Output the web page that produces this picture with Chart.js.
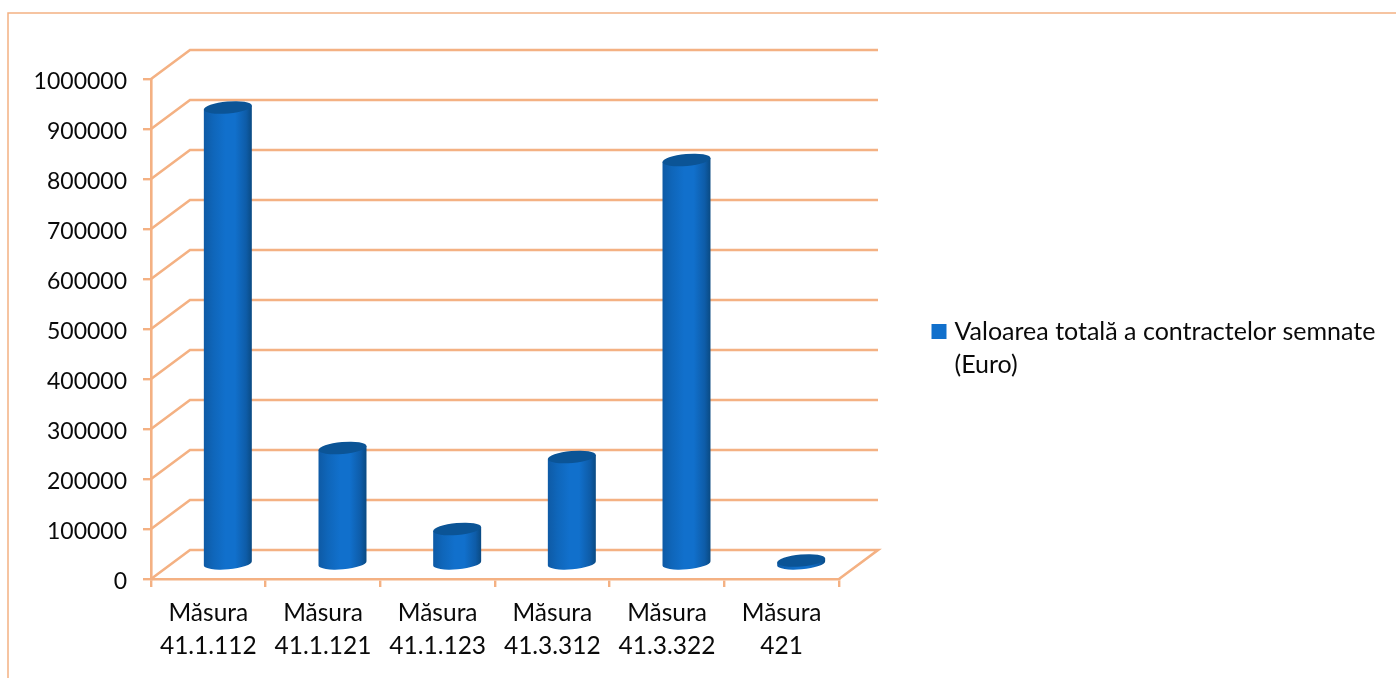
<!DOCTYPE html>
<html>
<head>
<meta charset="utf-8">
<style>html,body{margin:0;padding:0;background:#fff;overflow:hidden}canvas{display:block}</style>
<script src="https://cdn.jsdelivr.net/npm/chart.js@4/dist/chart.umd.js"></script>
</head>
<body>
<canvas id="c" width="1396" height="678"></canvas>
<script>
const categories = [["Măsura","41.1.112"],["Măsura","41.1.121"],["Măsura","41.1.123"],["Măsura","41.3.312"],["Măsura","41.3.322"],["Măsura","421"]];
const seriesName = ["Valoarea totală a contractelor semnate","(Euro)"];
const seriesValues = [914000,233000,71000,215000,809000,8000];
const yMin = 0, yMax = 1000000, yStep = 100000;
const LINE = "#F4B183", BLUE = "#1170CC", DARK = "#0B5496", TEXT = "#0a0a0a";
const FONT = "Lato";
const DX = 39, DY = -29;      // depth of the pseudo-3D box

// cylinders sit half way down the depth of the box
Chart.BarElement.prototype.draw = function (ctx) {
  const p = this.getProps(["x","y","base","width"], false);
  const cx = p.x + DX / 2, top = p.y + DY / 2, bot = p.base + DY / 2;
  const rx = p.width / 2, ry = 6, rot = -5 * Math.PI / 180;
  const ax = rx * Math.cos(rot), ay = rx * Math.sin(rot);
  const g = ctx.createLinearGradient(cx - rx, 0, cx + rx, 0);
  g.addColorStop(0, "#0E5AA5"); g.addColorStop(0.2, "#0F66BA"); g.addColorStop(0.45, BLUE);
  g.addColorStop(0.65, BLUE); g.addColorStop(0.88, "#0E5CA8"); g.addColorStop(1, "#0A4A82");
  ctx.save();
  ctx.beginPath();
  ctx.moveTo(cx - ax, top - ay);
  ctx.lineTo(cx - ax, bot - ay);
  ctx.ellipse(cx, bot, rx, ry, rot, Math.PI, 0, true);
  ctx.lineTo(cx + ax, top + ay);
  ctx.closePath();
  ctx.fillStyle = g; ctx.fill();
  ctx.beginPath();
  ctx.ellipse(cx, top, rx, ry, rot, 0, 2 * Math.PI);
  ctx.fillStyle = DARK; ctx.fill();
  ctx.restore();
};

const frame3d = {
  id: "frame3d",
  afterLayout(chart) {
    const l = chart.legend;
    l.left = 926; l.right = 1396; l.width = 470;
    l.top = 309; l.bottom = 403; l.height = 94;
  },
  beforeDraw(chart) {
    const ctx = chart.ctx;
    ctx.save();
    ctx.strokeStyle = LINE; ctx.lineWidth = 1.5;
    ctx.beginPath(); ctx.moveTo(8, 678); ctx.lineTo(8, 13); ctx.lineTo(1396, 13); ctx.stroke();
    ctx.restore();
  },
  beforeDatasetsDraw(chart) {
    const ctx = chart.ctx, ys = chart.scales.y, a = chart.chartArea;
    ctx.save();
    ctx.strokeStyle = LINE; ctx.lineWidth = 2.6; ctx.lineJoin = "miter";
    ys.ticks.forEach(t => {
      const y = ys.getPixelForValue(t.value);
      ctx.beginPath();
      ctx.moveTo(a.left, y);
      ctx.lineTo(a.left + DX, y + DY);
      ctx.lineTo(a.right + DX, y + DY);
      if (t.value === yMin) ctx.lineTo(a.right, y);
      ctx.stroke();
    });
    ctx.restore();
  }
};

new Chart(document.getElementById("c"), {
  type: "bar",
  data: {
    labels: categories,
    datasets: [{ label: seriesName, data: seriesValues, backgroundColor: BLUE, barPercentage: 1, categoryPercentage: 0.42 }]
  },
  plugins: [frame3d],
  options: {
    responsive: false, animation: false,
    layout: { padding: { left: 0, top: 79, right: 557, bottom: 0 } },
    plugins: {
      tooltip: { enabled: false },
      legend: {
        position: "chartArea", align: "start",
        labels: {
          boxWidth: 6, boxHeight: 6, color: TEXT,
          font: { family: FONT, size: 25, lineHeight: "33px" },
          generateLabels: c => [{
            text: seriesName, fillStyle: BLUE, strokeStyle: BLUE, lineWidth: 9,
            fontColor: TEXT, datasetIndex: 0, hidden: false
          }]
        }
      }
    },
    scales: {
      x: {
        offset: true,
        afterFit: s => { s.height = 99; },
        grid: { drawOnChartArea: false, drawTicks: true, tickLength: 8, color: LINE, lineWidth: 2.4, offset: true },
        border: { color: LINE, width: 2.6 },
        ticks: { color: TEXT, padding: 10, maxRotation: 0, autoSkip: false, font: { family: FONT, size: 24.5, lineHeight: "33px" } }
      },
      y: {
        min: yMin, max: yMax,
        afterFit: s => { s.width = 151; },
        grid: { drawOnChartArea: false, drawTicks: true, tickLength: 8, color: LINE, lineWidth: 2.4 },
        border: { color: LINE, width: 2.6 },
        ticks: { stepSize: yStep, color: TEXT, padding: 16, font: { family: FONT, size: 23, lineHeight: "6px" }, callback: v => ["", String(v)] }
      }
    }
  }
});
</script>
</body>
</html>
